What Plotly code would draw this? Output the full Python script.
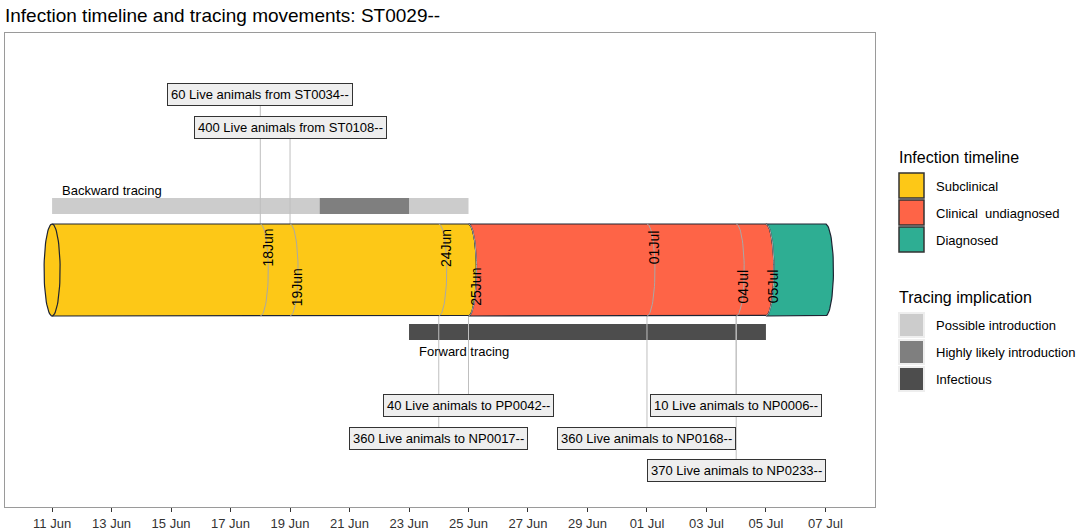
import numpy as np
import pandas as pd
import plotly.graph_objects as go

# infection stages shown along the cylinder
stage_names = ["Subclinical", "Clinical  undiagnosed", "Diagnosed"]
stage_start = ["2020-06-11", "2020-06-25", "2020-07-05"]
stage_end = ["2020-06-25", "2020-07-05", "2020-07-07"]
stage_colors = ["#FDC817", "#FE6447", "#2EAE93"]

# tracing windows
trace_names = ["Possible introduction", "Highly likely introduction", "Infectious"]
trace_colors = ["#CCCCCC", "#7F7F7F", "#4D4D4D"]
backward_start = ["2020-06-11", "2020-06-20"]
backward_end = ["2020-06-25", "2020-06-23"]
forward_start = ["2020-06-23"]
forward_end = ["2020-07-05"]

# movements
in_dates = ["2020-06-18", "2020-06-19"]
in_labels = ["60 Live animals from ST0034--", "400 Live animals from ST0108--"]
out_dates = ["2020-06-25", "2020-06-24", "2020-07-04", "2020-07-01", "2020-07-04"]
out_labels = ["40 Live animals to PP0042--", "360 Live animals to NP0017--",
              "10 Live animals to NP0006--", "360 Live animals to NP0168--",
              "370 Live animals to NP0233--"]

# dates written on the cylinder
event_dates = ["2020-06-18", "2020-06-19", "2020-06-24", "2020-06-25",
               "2020-07-01", "2020-07-04", "2020-07-05"]

# layout helpers (vertical positions in axis units)
in_rows = [413, 380]
out_rows = [102, 69, 102, 69, 37]
event_rows = [259, 220, 259, 220, 259, 220, 220]
yc, hh, w = 237, 46, 0.27
FONT = "Liberation Sans, Arial, sans-serif"
OUTLINE = "#1E2433"

t = np.linspace(0, np.pi, 40)


def shift(d, days):
    return pd.Timestamp(d) + pd.to_timedelta(days, unit="D")


fig = go.Figure()

# tracing bars
def add_bar(starts, ends, ycen, color):
    for s, e in zip(starts, ends):
        dur = (pd.Timestamp(e) - pd.Timestamp(s)).total_seconds() * 1000
        fig.add_trace(go.Bar(x=[dur], base=[s], y=[ycen], orientation="h", width=16,
                             marker=dict(color=color, line=dict(width=0)),
                             showlegend=False, hoverinfo="skip"))

add_bar(backward_start[:1], backward_end[:1], 301, trace_colors[0])
add_bar(backward_start[1:], backward_end[1:], 301, trace_colors[1])
add_bar(forward_start, forward_end, 175, trace_colors[2])

# connector lines
for d, yl in zip(in_dates, in_rows):
    fig.add_trace(go.Scatter(x=[d, d], y=[yl - 10, yc + hh], mode="lines",
                             line=dict(color="#BFBFBF", width=1), showlegend=False, hoverinfo="skip"))
for d, yl in zip(out_dates, out_rows):
    fig.add_trace(go.Scatter(x=[d, d], y=[yc - hh, yl + 10], mode="lines",
                             line=dict(color="#BFBFBF", width=1), showlegend=False, hoverinfo="skip"))

# cylinder segments
for i, (s, e, c) in enumerate(zip(stage_start, stage_end, stage_colors)):
    if i == 0:
        xl = shift(s, -w * np.sin(t))
    else:
        xl = shift(s, w * np.sin(t))
    yl = yc + hh * np.cos(t)
    xr = shift(e, w * np.sin(t))
    yr = yc - hh * np.cos(t)
    xs = list(xl) + list(xr) + [xl[0]]
    ys = list(yl) + list(yr) + [yl[0]]
    fig.add_trace(go.Scatter(x=xs, y=ys, mode="lines", fill="toself", fillcolor=c,
                             line=dict(color=OUTLINE, width=1.2), showlegend=False, hoverinfo="skip"))

# front face of the cylinder
fig.add_trace(go.Scatter(x=shift(stage_start[0], w * np.sin(t)), y=yc + hh * np.cos(t), mode="lines",
                         line=dict(color=OUTLINE, width=1.2), showlegend=False, hoverinfo="skip"))

# event arcs
for d in event_dates:
    fig.add_trace(go.Scatter(x=shift(d, w * np.sin(t)), y=yc + hh * np.cos(t), mode="lines",
                             line=dict(color="#A8A8A8", width=1), showlegend=False, hoverinfo="skip"))

annotations = []
for d, yv in zip(event_dates, event_rows):
    annotations.append(dict(x=shift(d, w * 0.9), y=yv, text=pd.Timestamp(d).strftime("%d%b"),
                            textangle=-90, showarrow=False, font=dict(size=14, color="black", family=FONT)))

box = dict(showarrow=False, bgcolor="#EEEEEE", bordercolor="#333333", borderwidth=1, borderpad=3,
           font=dict(size=13, color="black", family=FONT))
for d, yv, txt in zip(in_dates, in_rows, in_labels):
    annotations.append(dict(x=d, y=yv, text=txt, **box))
for d, yv, txt in zip(out_dates, out_rows, out_labels):
    annotations.append(dict(x=d, y=yv, text=txt, **box))

annotations.append(dict(x="2020-06-11", y=317, text="Backward tracing", xanchor="left", xshift=8,
                        showarrow=False, font=dict(size=13, color="black", family=FONT)))
annotations.append(dict(x="2020-06-23", y=156, text="Forward tracing", xanchor="left", xshift=8,
                        showarrow=False, font=dict(size=13, color="black", family=FONT)))

# manual legend (pixel -> paper conversion)
L, R, T, B = 5, 875, 33, 507


def px(x):
    return (x - L) / (R - L)


def py(y):
    return (B - y) / (B - T)


legend_text = dict(xref="paper", yref="paper", xanchor="left", yanchor="middle", showarrow=False)
shapes = []
annotations.append(dict(x=px(897), y=py(157), text="Infection timeline",
                        font=dict(size=16, color="black", family=FONT), **legend_text))
for i, (n, c) in enumerate(zip(stage_names, stage_colors)):
    y0 = 173 + 27 * i
    shapes.append(dict(type="rect", xref="paper", yref="paper", x0=px(899), x1=px(924),
                       y0=py(y0), y1=py(y0 + 25), fillcolor=c, line=dict(color="#333333", width=1.5)))
    annotations.append(dict(x=px(934), y=py(y0 + 13), text=n,
                            font=dict(size=13, color="black", family=FONT), **legend_text))

annotations.append(dict(x=px(897), y=py(297), text="Tracing implication",
                        font=dict(size=16, color="black", family=FONT), **legend_text))
for i, (n, c) in enumerate(zip(trace_names, trace_colors)):
    y0 = 312 + 27 * i
    shapes.append(dict(type="rect", xref="paper", yref="paper", x0=px(899), x1=px(924),
                       y0=py(y0 + 1), y1=py(y0 + 25), fillcolor=c, line=dict(color="#EEEEEE", width=2)))
    annotations.append(dict(x=px(934), y=py(y0 + 13), text=n,
                            font=dict(size=13, color="black", family=FONT), **legend_text))

fig.update_layout(
    width=1084, height=531,
    margin=dict(l=L, r=1084 - R, t=T, b=531 - B),
    paper_bgcolor="white", plot_bgcolor="white",
    barmode="overlay",
    title=dict(text="Infection timeline and tracing movements: ST0029--", x=5 / 1084, xref="container",
               xanchor="left", y=1 - 15 / 531, yref="container", yanchor="middle",
               font=dict(size=19, color="black", family=FONT)),
    xaxis=dict(type="date", range=["2020-06-09 10:00", "2020-07-08 16:00"],
               tick0="2020-06-11", dtick=2 * 86400000, tickformat="%d %b",
               ticks="outside", ticklen=4, tickcolor="#333333", showgrid=False, zeroline=False,
               showline=True, mirror=True, linecolor="#9A9A9A", linewidth=1.2,
               tickfont=dict(size=13, color="#333333", family=FONT), automargin=False),
    yaxis=dict(range=[0, 474], showticklabels=False, ticks="", showgrid=False, zeroline=False,
               showline=True, mirror=True, linecolor="#9A9A9A", linewidth=1.2, automargin=False),
    annotations=annotations,
    shapes=shapes,
    showlegend=False,
)

fig.write_html("out.html", config={"displayModeBar": False},
               post_script="document.body.style.margin='0';")
